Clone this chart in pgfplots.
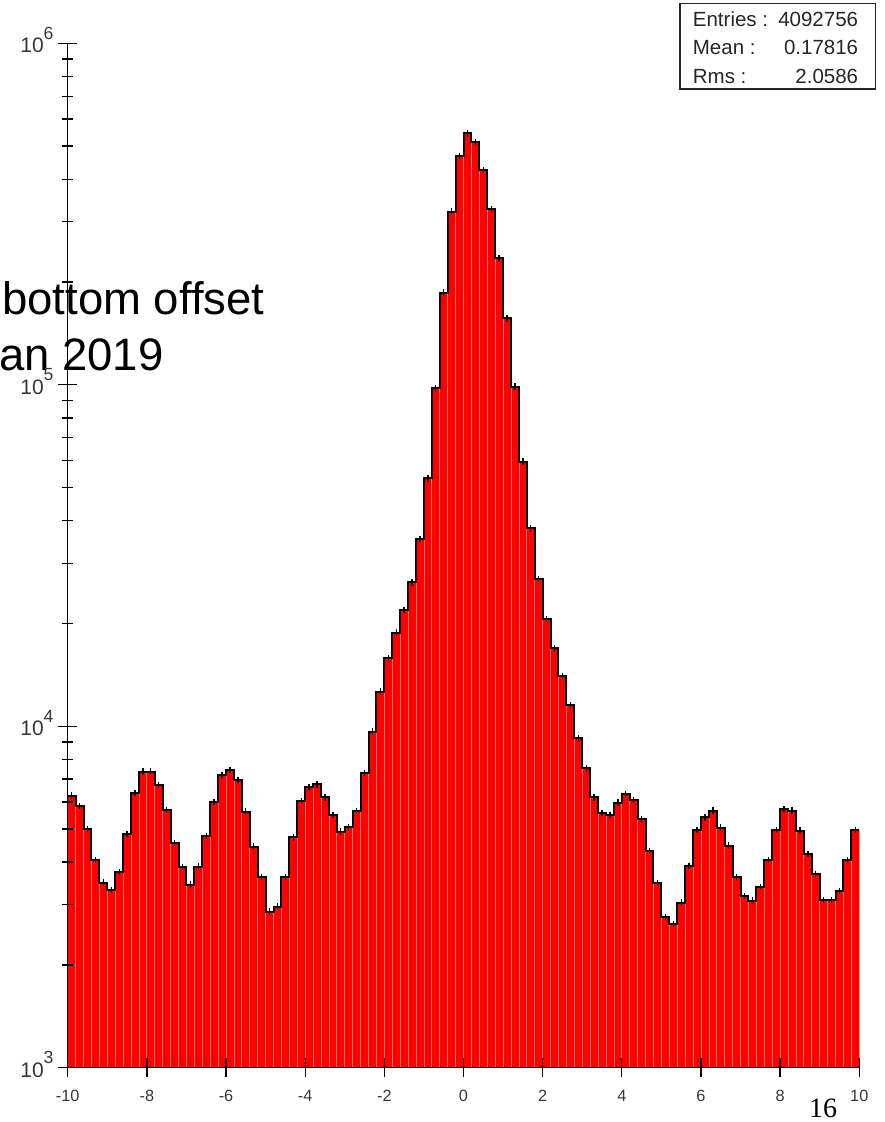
\documentclass[border=0pt]{standalone}
\usepackage{pgfplots}
\pgfplotsset{compat=1.18}
\usepackage{pgfplotstable}
\usepackage{fontspec}
\setmainfont{Liberation Sans}
\newfontfamily\seriffont{Liberation Serif}
\definecolor{histred}{RGB}{255,0,0}
\definecolor{stripe}{RGB}{255,110,110}
\definecolor{ticklab}{RGB}{55,55,55}
\newcommand\ysup[1]{10\raisebox{13.7bp}{\fontsize{17.6bp}{17.6bp}\selectfont #1}}

\pgfplotstableread{
x y
-10.0 6263
-9.8 5843
-9.6 5003
-9.4 4059
-9.2 3483
-9.0 3316
-8.8 3744
-8.6 4837
-8.4 6378
-8.2 7364
-8.0 7364
-7.8 6731
-7.6 5687
-7.4 4553
-7.2 3873
-7.0 3437
-6.8 3881
-6.6 4773
-6.4 6003
-6.2 7202
-6.0 7447
-5.8 6962
-5.6 5622
-5.4 4440
-5.2 3621
-5.0 2865
-4.8 2963
-4.6 3621
-4.4 4725
-4.2 6044
-4.0 6642
-3.8 6754
-3.6 6187
-3.4 5499
-3.2 4913
-3.0 5060
-2.8 5649
-2.6 7298
-2.4 9643
-2.2 12627
-2.0 15817
-1.8 18800
-1.6 21906
-1.4 26409
-1.2 35360
-1.0 53232
-0.8 97680
-0.6 186080
-0.4 321300
-0.2 467740
0.0 545200
0.2 513000
0.4 425600
0.6 326500
0.8 234600
1.0 156500
1.2 98720
1.4 59530
1.6 37990
1.8 26999
2.0 20620
2.2 16920
2.4 14040
2.6 11546
2.8 9224
3.0 7534
3.2 6196
3.4 5563
3.6 5499
3.8 5975
4.0 6336
4.2 6085
4.4 5342
4.6 4313
4.8 3470
5.0 2759
5.2 2637
5.4 3044
5.6 3899
5.8 4970
6.0 5414
6.2 5661
6.4 5048
6.6 4471
6.8 3613
7.0 3186
7.2 3085
7.4 3378
7.6 4059
7.8 4970
8.0 5725
8.2 5661
8.4 4946
8.6 4227
8.8 3694
9.0 3100
9.2 3100
9.4 3294
9.6 4059
9.8 4970
10.0 4970
}\histdata

\begin{document}
\begin{tikzpicture}[
  xlab/.style={anchor=north, inner sep=0pt, yshift=-22.3bp, text=ticklab, font=\fontsize{16.3bp}{16.3bp}\selectfont},
  ylab/.style={anchor=base east, inner sep=0pt, xshift=-14bp, yshift=-9.7bp, text=ticklab, font=\fontsize{21bp}{21bp}\selectfont}]
\useasboundingbox (0,0) rectangle (885bp,1122bp);
\node[anchor=base west, inner sep=0pt, font=\fontsize{45.5bp}{50bp}\selectfont] at (2bp,807bp) {bottom offset};
\node[anchor=base west, inner sep=0pt, font=\fontsize{45.5bp}{50bp}\selectfont] at (-1bp,751.3bp) {an 2019};
\begin{axis}[
  at={(67.7bp,54.3bp)}, anchor=south west, scale only axis,
  width=791.6bp, height=1024.4bp,
  ymode=log, xmin=-10, xmax=10, ymin=1000, ymax=1000000,
  axis x line=bottom, axis y line=left,
  axis line style={-, black, line width=1.3bp},
  axis on top,
  xtick={-10,-8,-6,-4,-2,0,2,4,6,8,10},
  xticklabels={},
  ytick={1000,10000,100000,1000000},
  yticklabels={},
  minor ytick={2000,3000,4000,5000,6000,7000,8000,9000,20000,30000,40000,50000,60000,70000,80000,90000,200000,300000,400000,500000,600000,700000,800000,900000},
  xminorticks=false,
  tick align=center,
  major tick length=18.5bp, minor tick length=11bp,
  every tick/.style={black, line width=1.3bp},
  clip mode=individual,
]
\addplot[ybar interval, fill=histred, draw=stripe, line width=0.8bp] table[x=x,y=y]{\histdata};
\addplot[const plot, black, line width=2bp, mark=none] table[x=x,y=y]{\histdata};
\addplot[draw=none, mark=none, forget plot,
  error bars/.cd, y dir=both, y explicit relative, error mark=none,
  error bar style={draw=black, line width=1.3bp, solid}]
  table[x expr=\thisrow{x}+0.1, y=y, y error expr=0.022]{\histdata};
\node[xlab] at (axis cs:-10,1000) {-10};
\node[xlab] at (axis cs:-8,1000) {-8};
\node[xlab] at (axis cs:-6,1000) {-6};
\node[xlab] at (axis cs:-4,1000) {-4};
\node[xlab] at (axis cs:-2,1000) {-2};
\node[xlab] at (axis cs:0,1000) {0};
\node[xlab] at (axis cs:2,1000) {2};
\node[xlab] at (axis cs:4,1000) {4};
\node[xlab] at (axis cs:6,1000) {6};
\node[xlab] at (axis cs:8,1000) {8};
\node[xlab] at (axis cs:10,1000) {10};
\node[ylab] at (axis cs:-10,1000) {\ysup{3}};
\node[ylab] at (axis cs:-10,10000) {\ysup{4}};
\node[ylab] at (axis cs:-10,100000) {\ysup{5}};
\node[ylab] at (axis cs:-10,1000000) {\ysup{6}};
\end{axis}
\draw[line width=1.3bp, black!85] (680bp,1118.7bp) rectangle (875.7bp,1033bp);
\begin{scope}[every node/.style={inner sep=0pt, font=\fontsize{20.5bp}{20.5bp}\selectfont, text=black!85}]
\node[anchor=base west] at (692.7bp,1095.3bp) {Entries :};
\node[anchor=base west] at (692.7bp,1067bp) {Mean :};
\node[anchor=base west] at (692.7bp,1038.7bp) {Rms :};
\node[anchor=base east] at (858.3bp,1095.3bp) {4092756};
\node[anchor=base east] at (858.3bp,1067bp) {0.17816};
\node[anchor=base east] at (858.3bp,1038.7bp) {2.0586};
\end{scope}
\node[anchor=base west, inner sep=0pt, font=\seriffont\fontsize{28bp}{28bp}\selectfont] at (809bp,4.7bp) {16};
\end{tikzpicture}
\end{document}
